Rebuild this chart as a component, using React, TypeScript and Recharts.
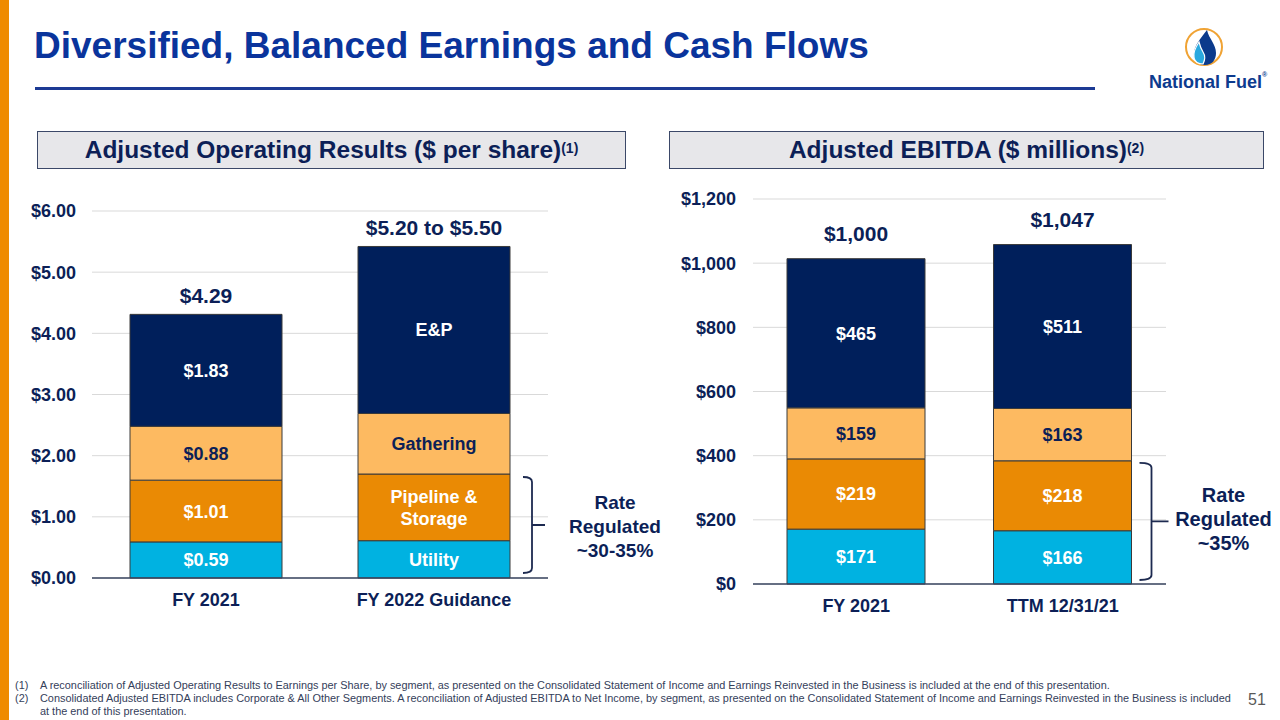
import { BarChart, Bar, XAxis, YAxis, CartesianGrid, LabelList } from 'recharts';

// Adjusted Operating Results ($ per share)
const epsCategories = ['FY 2021', 'FY 2022 Guidance'];
const epsUtility = [0.59, 0.61];
const epsPipeline = [1.01, 1.09];
const epsGathering = [0.88, 0.99];
const epsEP = [1.83, 2.73];
const epsTotals = ['$4.29', '$5.20 to $5.50'];
const epsTicks = [0, 1, 2, 3, 4, 5, 6];

// Adjusted EBITDA ($ millions)
const ebitdaCategories = ['FY 2021', 'TTM 12/31/21'];
const ebitdaUtility = [171, 166];
const ebitdaPipeline = [219, 218];
const ebitdaGathering = [159, 163];
const ebitdaEP = [465, 511];
const ebitdaTotals = ['$1,000', '$1,047'];
const ebitdaTicks = [0, 200, 400, 600, 800, 1000, 1200];

const segmentNames = { utility: 'Utility', pipeline: 'Pipeline &\nStorage', gathering: 'Gathering', ep: 'E&P' };

const NAVY = '#001f5b';
const TEXT_NAVY = '#0c1f57';
const COLORS = { utility: '#00b2e1', pipeline: '#ea8a04', gathering: '#fdba61', ep: NAVY };
const FONT = 'Arial, "Liberation Sans", Helvetica, sans-serif';

const epsData = epsCategories.map((name, i) => ({
  name,
  utility: epsUtility[i],
  pipeline: epsPipeline[i],
  gathering: epsGathering[i],
  ep: epsEP[i],
}));

const ebitdaData = ebitdaCategories.map((name, i) => ({
  name,
  utility: ebitdaUtility[i],
  pipeline: ebitdaPipeline[i],
  gathering: ebitdaGathering[i],
  ep: ebitdaEP[i],
}));

function segmentLabel(key: string, fmt: (v: number) => string, namedIndex: number | null) {
  return (props: any) => {
    const { x, y, width, height, value, index } = props;
    const fill = key === 'gathering' ? TEXT_NAVY : '#ffffff';
    const cx = x + width / 2;
    const cy = y + height / 2;
    const text = index === namedIndex ? (segmentNames as any)[key] : fmt(value);
    const lines = String(text).split('\n');
    return (
      <text x={cx} textAnchor="middle" fill={fill} fontSize={18} fontWeight="bold" fontFamily={FONT}>
        {lines.map((l, k) => (
          <tspan key={k} x={cx} y={cy + (k - (lines.length - 1) / 2) * 22} dy="0.36em">{l}</tspan>
        ))}
      </text>
    );
  };
}

function totalLabel(totals: string[], gap: number) {
  return (props: any) => {
    const { x, y, width, index } = props;
    return (
      <text x={x + width / 2} y={y - gap} dy="0.36em" textAnchor="middle" fill={TEXT_NAVY}
        fontSize={21} fontWeight="bold" fontFamily={FONT}>
        {totals[index]}
      </text>
    );
  };
}

// bracket drawn off the utility bar, using the bar's own pixel-per-unit ratio
function bracketLabel(pipeline: number[], opts: any) {
  return (props: any) => {
    const { x, y, width, height, value, index } = props;
    if (index !== opts.index) return null;
    const ppu = height / value;
    const top = y - pipeline[index] * ppu + opts.inTop;
    const bottom = y + height - opts.inBottom;
    const vx = x + width + opts.dx;
    const hx = vx - opts.hook;
    const mid = (top + bottom) / 2;
    const tx = x + width + opts.textDx;
    return (
      <g>
        <path
          d={`M${hx},${top} Q${vx},${top} ${vx},${top + 5} L${vx},${bottom - 5} Q${vx},${bottom} ${hx},${bottom} M${vx},${mid} L${vx + opts.tick},${mid}`}
          fill="none" stroke="#1d2a50" strokeWidth={1.8}
        />
        <text textAnchor="middle" fill={TEXT_NAVY} fontSize={opts.fontSize} fontWeight="bold" fontFamily={FONT}>
          {opts.lines.map((l: string, k: number) => (
            <tspan key={k} x={tx} y={mid + opts.textDy + (k - 1) * 24} dy="0.36em">{l}</tspan>
          ))}
        </text>
      </g>
    );
  };
}

const yTick = { fontSize: 18, fontWeight: 'bold', fill: TEXT_NAVY, fontFamily: FONT } as any;
const xTick = { fontSize: 18, fontWeight: 'bold', fill: TEXT_NAVY, fontFamily: FONT } as any;

function StackBars({ fmt, totals, gap, pipeline, bracket }: any) {
  return [
    <Bar key="u" dataKey="utility" stackId="a" fill={COLORS.utility} stroke="#3a3a3a" strokeWidth={1} isAnimationActive={false}>
      <LabelList dataKey="utility" content={segmentLabel('utility', fmt, bracket.named)} />
      <LabelList dataKey="utility" content={bracketLabel(pipeline, bracket)} />
    </Bar>,
    <Bar key="p" dataKey="pipeline" stackId="a" fill={COLORS.pipeline} stroke="#3a3a3a" strokeWidth={1} isAnimationActive={false}>
      <LabelList dataKey="pipeline" content={segmentLabel('pipeline', fmt, bracket.named)} />
    </Bar>,
    <Bar key="g" dataKey="gathering" stackId="a" fill={COLORS.gathering} stroke="#3a3a3a" strokeWidth={1} isAnimationActive={false}>
      <LabelList dataKey="gathering" content={segmentLabel('gathering', fmt, bracket.named)} />
    </Bar>,
    <Bar key="e" dataKey="ep" stackId="a" fill={COLORS.ep} stroke="#3a3a3a" strokeWidth={1} isAnimationActive={false}>
      <LabelList dataKey="ep" content={segmentLabel('ep', fmt, bracket.named)} />
      <LabelList dataKey="ep" content={totalLabel(totals, gap)} />
    </Bar>,
  ];
}

function Header({ left, width, children }: any) {
  return (
    <div style={{
      position: 'absolute', left, top: 131, width, height: 38, boxSizing: 'border-box',
      background: '#e7e7ea', border: '1.5px solid #3b4868', display: 'flex',
      alignItems: 'center', justifyContent: 'center', color: TEXT_NAVY,
      fontSize: 24.5, fontWeight: 'bold', whiteSpace: 'nowrap',
    }}>
      {children}
    </div>
  );
}

function Logo() {
  return (
    <div style={{ position: 'absolute', left: 1140, top: 26, width: 135, height: 70 }}>
      <svg width={130} height={44} style={{ position: 'absolute', left: 0, top: 0 }}>
        <circle cx={64} cy={21} r={18} fill="#fff" stroke="#f0a334" strokeWidth={2} />
        <path d="M67,4 C60,13 54,20 54,28 C54,35 59,39 65,39 C72,39 76,34 76,27 C76,18 69,13 67,4 Z" fill="#0b3a8c" />
        <path d="M59,16 C55,22 53,27 54,32 C55,36 59,38 63,38 C65,34 65,29 63,26 C61,23 60,20 59,16 Z" fill="#2aa9df" stroke="#fff" strokeWidth={1.2} />
      </svg>
      <div style={{ position: 'absolute', left: 9, top: 46, color: '#0d3b8e', fontSize: 18, fontWeight: 'bold', whiteSpace: 'nowrap' }}>
        National Fuel<sup style={{ fontSize: 7, verticalAlign: 'top', position: 'relative', top: -1 }}>®</sup>
      </div>
    </div>
  );
}

export default function App() {
  return (
    <div style={{ position: 'absolute', left: 0, top: 0, width: 1280, height: 720, background: '#fff', overflow: 'hidden', fontFamily: FONT }}>
      <div style={{ position: 'absolute', left: 0, top: 0, width: 9, height: 720, background: '#ef8b00' }} />

      <div style={{ position: 'absolute', left: 34, top: 25, fontSize: 37, fontWeight: 'bold', color: '#0a349c', whiteSpace: 'nowrap' }}>
        Diversified, Balanced Earnings and Cash Flows
      </div>
      <div style={{ position: 'absolute', left: 35, top: 87, width: 1060, height: 3, background: '#1c3a94' }} />
      <Logo />

      <Header left={37} width={589}>
        Adjusted Operating Results ($ per share)<sup style={{ fontSize: 14, position: 'relative', top: -2 }}>(1)</sup>
      </Header>
      <Header left={669} width={595}>
        Adjusted EBITDA ($ millions)<sup style={{ fontSize: 14, position: 'relative', top: -2 }}>(2)</sup>
      </Header>

      <div style={{ position: 'absolute', left: 30, top: 185 }}>
        <BarChart width={640} height={430} data={epsData} margin={{ top: 26, right: 122, bottom: 0, left: 0 }} barSize={152}>
          <CartesianGrid vertical={false} stroke="#d9d9d9" />
          <XAxis dataKey="name" axisLine={{ stroke: '#3a4660', strokeWidth: 1.5 }} tickLine={false} tickSize={0} tickMargin={15} height={37} tick={xTick} />
          <YAxis domain={[0, 6]} ticks={epsTicks} width={62} axisLine={false} tickLine={false} tickSize={0} tickMargin={16}
            tick={yTick} tickFormatter={(v: number) => `$${v.toFixed(2)}`} />
          {StackBars({
            fmt: (v: number) => `$${v.toFixed(2)}`, totals: epsTotals, gap: 19, pipeline: epsPipeline,
            bracket: { index: 1, named: 1, inTop: 3, inBottom: 5, dx: 22, hook: 9, tick: 13, textDx: 105, textDy: 1, fontSize: 19, lines: ['Rate', 'Regulated', '~30-35%'] },
          })}
        </BarChart>
      </div>

      <div style={{ position: 'absolute', left: 660, top: 180 }}>
        <BarChart width={620} height={440} data={ebitdaData} margin={{ top: 19, right: 114, bottom: 0, left: 0 }} barSize={138}>
          <CartesianGrid vertical={false} stroke="#d9d9d9" />
          <XAxis dataKey="name" axisLine={{ stroke: '#3a4660', strokeWidth: 1.5 }} tickLine={false} tickSize={0} tickMargin={15} height={36} tick={xTick} />
          <YAxis domain={[0, 1200]} ticks={ebitdaTicks} width={93} axisLine={false} tickLine={false} tickSize={0} tickMargin={17}
            tick={yTick} tickFormatter={(v: number) => `$${v.toLocaleString('en-US')}`} />
          {StackBars({
            fmt: (v: number) => `$${v}`, totals: ebitdaTotals, gap: 25, pipeline: ebitdaPipeline,
            bracket: { index: 1, named: null, inTop: 2, inBottom: 4, dx: 20, hook: 12, tick: 17, textDx: 92, textDy: -3, fontSize: 20, lines: ['Rate', 'Regulated', '~35%'] },
          })}
        </BarChart>
      </div>

      <div style={{ position: 'absolute', left: 15, top: 679, fontSize: 10.9, lineHeight: '13px', color: '#34405a', whiteSpace: 'nowrap' }}>
        <div style={{ display: 'flex' }}><span style={{ width: 25 }}>(1)</span><span>A reconciliation of Adjusted Operating Results to Earnings per Share, by segment, as presented on the Consolidated Statement of Income and Earnings Reinvested in the Business is included at the end of this presentation.</span></div>
        <div style={{ display: 'flex' }}><span style={{ width: 25 }}>(2)</span><span>Consolidated Adjusted EBITDA includes Corporate &amp; All Other Segments. A reconciliation of Adjusted EBITDA to Net Income, by segment, as presented on the Consolidated Statement of Income and Earnings Reinvested in the Business is included</span></div>
        <div style={{ paddingLeft: 25 }}>at the end of this presentation.</div>
      </div>
      <div style={{ position: 'absolute', left: 1248, top: 691, fontSize: 16, color: '#595959' }}>51</div>
    </div>
  );
}
